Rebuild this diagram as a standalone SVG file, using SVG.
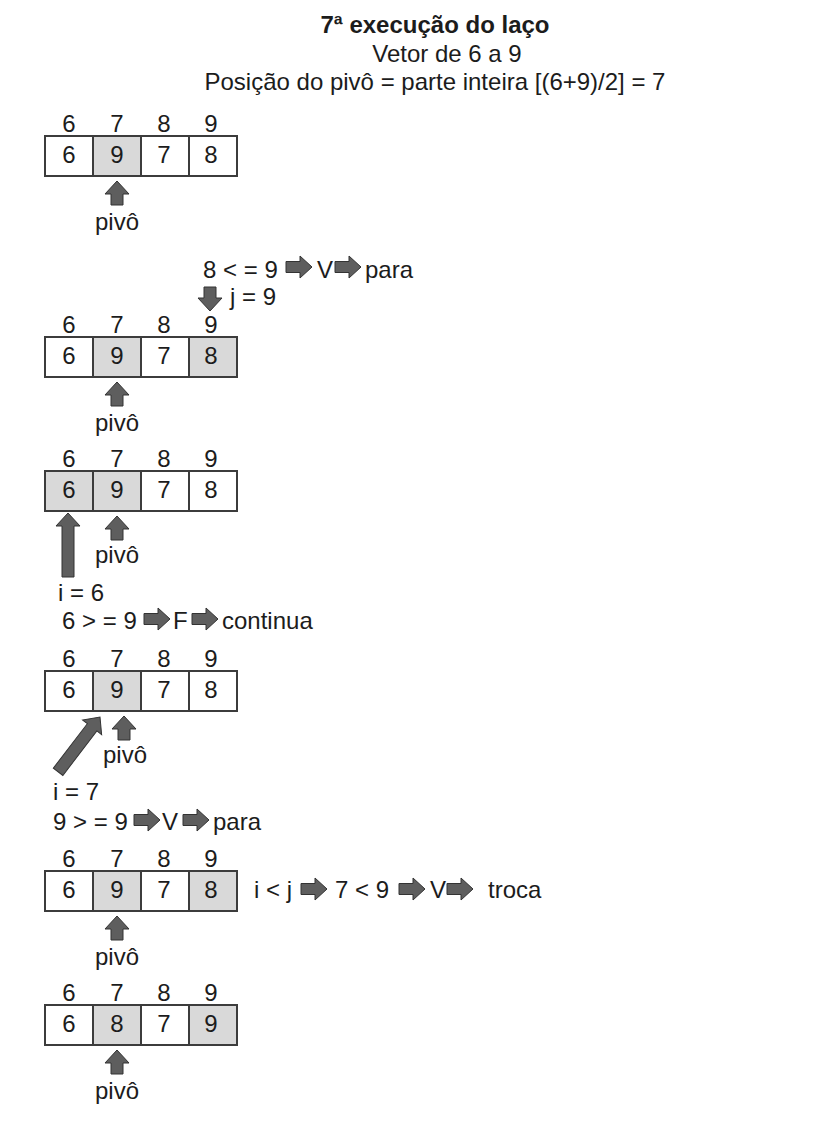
<svg xmlns="http://www.w3.org/2000/svg" xmlns:xlink="http://www.w3.org/1999/xlink" width="818" height="1140" viewBox="0 0 818 1140">
<style>
text{font-family:"Liberation Sans",Arial,Helvetica,sans-serif;font-size:24px;fill:#1c1c1c}
.t{font-weight:bold}
.c{text-anchor:middle}
.cell{fill:#ffffff;stroke:#3c3c3c;stroke-width:2}
.sh{fill:#d9d9d9;stroke:#3c3c3c;stroke-width:2}
.arr{fill:#5e5e5e;stroke:#333333;stroke-width:1}
</style>
<defs>
<path id="ua" d="M0,-12 L12,1 H6 V12 H-6 V1 H-12 Z"/>
<path id="ra" d="M13,0 L1,11 V5.5 H-13 V-5.5 H1 V-11 Z"/>
</defs>
<rect width="818" height="1140" fill="#ffffff"/>

<g id="title">
<text class="t c" x="435" y="33">7ª execução do laço</text>
<text class="c" x="447" y="62">Vetor de 6 a 9</text>
<text class="c" x="435" y="90">Posição do pivô = parte inteira [(6+9)/2] = 7</text>
</g>

<g id="step1" transform="translate(0,136)">
<g class="c"><text x="69" y="-4">6</text><text x="117" y="-4">7</text><text x="164" y="-4">8</text><text x="211" y="-4">9</text></g>
<rect class="cell" x="45" y="0" width="48" height="40"/><rect class="sh" x="93" y="0" width="48" height="40"/><rect class="cell" x="141" y="0" width="48" height="40"/><rect class="cell" x="189" y="0" width="48" height="40"/>
<g class="c"><text x="69" y="27">6</text><text x="117" y="27">9</text><text x="164" y="27">7</text><text x="211" y="27">8</text></g>
<text class="c" x="117" y="94">pivô</text>
</g>

<g id="step2" transform="translate(0,337)">
<text x="203" y="-59">8 &lt; = 9</text>
<text x="317" y="-59">V</text>
<text x="365" y="-59">para</text>
<text x="230" y="-32">j = 9</text>
<g class="c"><text x="69" y="-4">6</text><text x="117" y="-4">7</text><text x="164" y="-4">8</text><text x="211" y="-4">9</text></g>
<rect class="cell" x="45" y="0" width="48" height="40"/><rect class="sh" x="93" y="0" width="48" height="40"/><rect class="cell" x="141" y="0" width="48" height="40"/><rect class="sh" x="189" y="0" width="48" height="40"/>
<g class="c"><text x="69" y="27">6</text><text x="117" y="27">9</text><text x="164" y="27">7</text><text x="211" y="27">8</text></g>
<text class="c" x="117" y="94">pivô</text>
</g>

<g id="step3" transform="translate(0,471)">
<g class="c"><text x="69" y="-4">6</text><text x="117" y="-4">7</text><text x="164" y="-4">8</text><text x="211" y="-4">9</text></g>
<rect class="sh" x="45" y="0" width="48" height="40"/><rect class="sh" x="93" y="0" width="48" height="40"/><rect class="cell" x="141" y="0" width="48" height="40"/><rect class="cell" x="189" y="0" width="48" height="40"/>
<g class="c"><text x="69" y="27">6</text><text x="117" y="27">9</text><text x="164" y="27">7</text><text x="211" y="27">8</text></g>
<text class="c" x="117" y="92">pivô</text>
<text x="58" y="130">i = 6</text>
<text x="62" y="158">6 &gt; = 9</text>
<text x="173" y="158">F</text>
<text x="222" y="158">continua</text>
</g>

<g id="step4" transform="translate(0,671)">
<g class="c"><text x="69" y="-4">6</text><text x="117" y="-4">7</text><text x="164" y="-4">8</text><text x="211" y="-4">9</text></g>
<rect class="cell" x="45" y="0" width="48" height="40"/><rect class="sh" x="93" y="0" width="48" height="40"/><rect class="cell" x="141" y="0" width="48" height="40"/><rect class="cell" x="189" y="0" width="48" height="40"/>
<g class="c"><text x="69" y="27">6</text><text x="117" y="27">9</text><text x="164" y="27">7</text><text x="211" y="27">8</text></g>
<text class="c" x="125" y="92">pivô</text>
<text x="53" y="129">i = 7</text>
<text x="53" y="159">9 &gt; = 9</text>
<text x="162" y="159">V</text>
<text x="213" y="159">para</text>
</g>

<g id="step5" transform="translate(0,871)">
<g class="c"><text x="69" y="-4">6</text><text x="117" y="-4">7</text><text x="164" y="-4">8</text><text x="211" y="-4">9</text></g>
<rect class="cell" x="45" y="0" width="48" height="40"/><rect class="sh" x="93" y="0" width="48" height="40"/><rect class="cell" x="141" y="0" width="48" height="40"/><rect class="sh" x="189" y="0" width="48" height="40"/>
<g class="c"><text x="69" y="27">6</text><text x="117" y="27">9</text><text x="164" y="27">7</text><text x="211" y="27">8</text></g>
<text x="254" y="27">i &lt; j</text>
<text x="335" y="27">7 &lt; 9</text>
<text x="430" y="27">V</text>
<text x="488" y="27">troca</text>
<text class="c" x="117" y="94">pivô</text>
</g>

<g id="step6" transform="translate(0,1005)">
<g class="c"><text x="69" y="-4">6</text><text x="117" y="-4">7</text><text x="164" y="-4">8</text><text x="211" y="-4">9</text></g>
<rect class="cell" x="45" y="0" width="48" height="40"/><rect class="sh" x="93" y="0" width="48" height="40"/><rect class="cell" x="141" y="0" width="48" height="40"/><rect class="sh" x="189" y="0" width="48" height="40"/>
<g class="c"><text x="69" y="27">6</text><text x="117" y="27">8</text><text x="164" y="27">7</text><text x="211" y="27">9</text></g>
<text class="c" x="117" y="94">pivô</text>
</g>

<g id="connectors" class="arr">
<use xlink:href="#ua" transform="translate(117,193)"/>
<use xlink:href="#ra" transform="translate(299,267)"/>
<use xlink:href="#ra" transform="translate(348,267)"/>
<use xlink:href="#ua" transform="translate(210,299) rotate(180)"/>
<use xlink:href="#ua" transform="translate(117,394)"/>
<path d="M68,513 L80,526 H74 V577 H62 V526 H56 Z"/>
<use xlink:href="#ua" transform="translate(117,528)"/>
<use xlink:href="#ra" transform="translate(157,619)"/>
<use xlink:href="#ra" transform="translate(205,619)"/>
<path d="M0,0 L12,13 H6 V69 H-6 V13 H-12 Z" transform="translate(100,717) rotate(37.4)"/>
<use xlink:href="#ua" transform="translate(124,728)"/>
<use xlink:href="#ra" transform="translate(147,820)"/>
<use xlink:href="#ra" transform="translate(196,820)"/>
<use xlink:href="#ra" transform="translate(314,889)"/>
<use xlink:href="#ra" transform="translate(412,889)"/>
<use xlink:href="#ra" transform="translate(460,889)"/>
<use xlink:href="#ua" transform="translate(117,928)"/>
<use xlink:href="#ua" transform="translate(117,1062)"/>
</g>
</svg>
